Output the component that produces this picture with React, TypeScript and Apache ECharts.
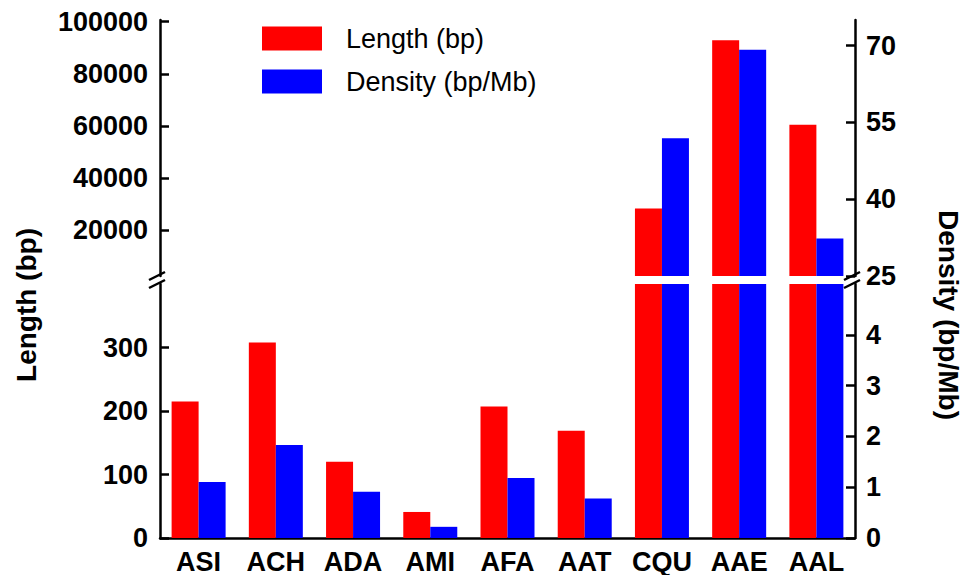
import React, { useEffect, useRef } from 'react';
import * as echarts from 'echarts';

const categories = ['ASI', 'ACH', 'ADA', 'AMI', 'AFA', 'AAT', 'CQU', 'AAE', 'AAL'];
const lengthBp = [215, 308, 120, 41, 207, 169, 28200, 92900, 60400];
const densityBpMb = [1.1, 1.83, 0.91, 0.22, 1.18, 0.78, 51.9, 69.2, 32.3];
const seriesNames = ['Length (bp)', 'Density (bp/Mb)'];

const lengthUpperTicks = [20000, 40000, 60000, 80000, 100000];
const lengthLowerTicks = [0, 100, 200, 300];
const densityUpperTicks = [25, 40, 55, 70];
const densityLowerTicks = [0, 1, 2, 3, 4];

const lengthUpperRange = [2300, 100650];
const lengthLowerRange = [0, 400];
const densityUpperRange = [25, 75];
const densityLowerRange = [0, 5];

const FONT = '"Liberation Sans", Arial, Helvetica, sans-serif';
const W = 974;
const H = 575;
const PLOT_LEFT = 160;
const PLOT_RIGHT = 855;
const UPPER_TOP = 20;
const UPPER_BOTTOM = 276;
const LOWER_TOP = 284;
const LOWER_BOTTOM = 538;

const aboveMin = (arr: number[], min: number) => arr.map((v) => (v > min ? v : '-'));

function yAxis(gridIndex: number, position: 'left' | 'right', range: number[], ticks: number[]) {
  return {
    type: 'value',
    gridIndex,
    position,
    min: range[0],
    max: range[1],
    splitLine: { show: false },
    axisLine: { show: true, lineStyle: { color: '#000', width: 2.5 } },
    axisTick: {
      show: true,
      inside: true,
      length: 9,
      customValues: ticks,
      lineStyle: { color: '#000', width: 2.5 },
    },
    axisLabel: {
      customValues: ticks,
      formatter: (v: number) => String(v),
      margin: position === 'left' ? 12 : 11,
      fontSize: 27,
      fontWeight: 'bold',
      fontFamily: FONT,
      color: '#000',
    },
  };
}

function breakMarks(x: number) {
  return [UPPER_BOTTOM, LOWER_TOP].map((y) => ({
    type: 'line',
    shape: { x1: x - 8, y1: y + 4, x2: x + 8, y2: y - 4 },
    style: { stroke: '#000', lineWidth: 2.5 },
    z: 100,
  }));
}

export default function App() {
  const ref = useRef<HTMLDivElement>(null);

  useEffect(() => {
    if (!ref.current) return;
    const chart = echarts.init(ref.current, undefined, { renderer: 'svg' });
    const barCommon = { type: 'bar', barWidth: 27, barGap: '0%', clip: true };
    chart.setOption({
      animation: false,
      backgroundColor: '#fff',
      grid: [
        { left: PLOT_LEFT, right: W - PLOT_RIGHT, top: UPPER_TOP, height: UPPER_BOTTOM - UPPER_TOP },
        { left: PLOT_LEFT, right: W - PLOT_RIGHT, top: LOWER_TOP, height: LOWER_BOTTOM - LOWER_TOP },
      ],
      legend: {
        data: seriesNames,
        orient: 'vertical',
        left: 262,
        top: 25,
        padding: 0,
        itemWidth: 60,
        itemHeight: 24,
        itemGap: 16,
        icon: 'rect',
        textStyle: { fontSize: 27, fontFamily: FONT, color: '#000', padding: [0, 0, 0, 19] },
      },
      xAxis: [
        { type: 'category', gridIndex: 0, data: categories, show: false },
        {
          type: 'category',
          gridIndex: 1,
          data: categories,
          position: 'bottom',
          axisLine: { lineStyle: { color: '#000', width: 2.5 } },
          axisTick: { alignWithLabel: true, inside: true, length: 10, interval: 0, lineStyle: { color: '#000', width: 2.5 } },
          axisLabel: { interval: 0, margin: 10, fontSize: 27, fontWeight: 'bold', fontFamily: FONT, color: '#000' },
        },
        {
          type: 'category',
          gridIndex: 1,
          data: categories,
          position: 'bottom',
          axisLine: { show: false },
          axisTick: { inside: true, length: 5, interval: 0, lineStyle: { color: '#000', width: 2.5 } },
          axisLabel: { show: false },
        },
      ],
      yAxis: [
        yAxis(0, 'left', lengthUpperRange, lengthUpperTicks),
        yAxis(0, 'right', densityUpperRange, densityUpperTicks),
        yAxis(1, 'left', lengthLowerRange, lengthLowerTicks),
        yAxis(1, 'right', densityLowerRange, densityLowerTicks),
      ],
      series: [
        { ...barCommon, name: seriesNames[0], xAxisIndex: 0, yAxisIndex: 0, data: aboveMin(lengthBp, lengthUpperRange[0]), itemStyle: { color: '#ff0000' } },
        { ...barCommon, name: seriesNames[1], xAxisIndex: 0, yAxisIndex: 1, data: aboveMin(densityBpMb, densityUpperRange[0]), itemStyle: { color: '#0000ff' } },
        { ...barCommon, name: seriesNames[0], xAxisIndex: 1, yAxisIndex: 2, data: lengthBp, itemStyle: { color: '#ff0000' } },
        { ...barCommon, name: seriesNames[1], xAxisIndex: 1, yAxisIndex: 3, data: densityBpMb, itemStyle: { color: '#0000ff' } },
      ],
      graphic: [
        ...breakMarks(PLOT_LEFT - 3),
        ...breakMarks(PLOT_RIGHT - 3),
        {
          type: 'text',
          x: 26,
          y: 305,
          rotation: Math.PI / 2,
          style: {
            text: 'Length (bp)',
            font: `bold 28px ${FONT}`,
            fill: '#000',
            textAlign: 'center',
            textVerticalAlign: 'middle',
          },
        },
        {
          type: 'text',
          x: 948,
          y: 315,
          rotation: -Math.PI / 2,
          style: {
            text: 'Density (bp/Mb)',
            font: `bold 28px ${FONT}`,
            fill: '#000',
            textAlign: 'center',
            textVerticalAlign: 'middle',
          },
        },
      ],
    });
    return () => chart.dispose();
  }, []);

  return <div ref={ref} style={{ position: 'fixed', left: 0, top: 0, width: W, height: H }} />;
}
